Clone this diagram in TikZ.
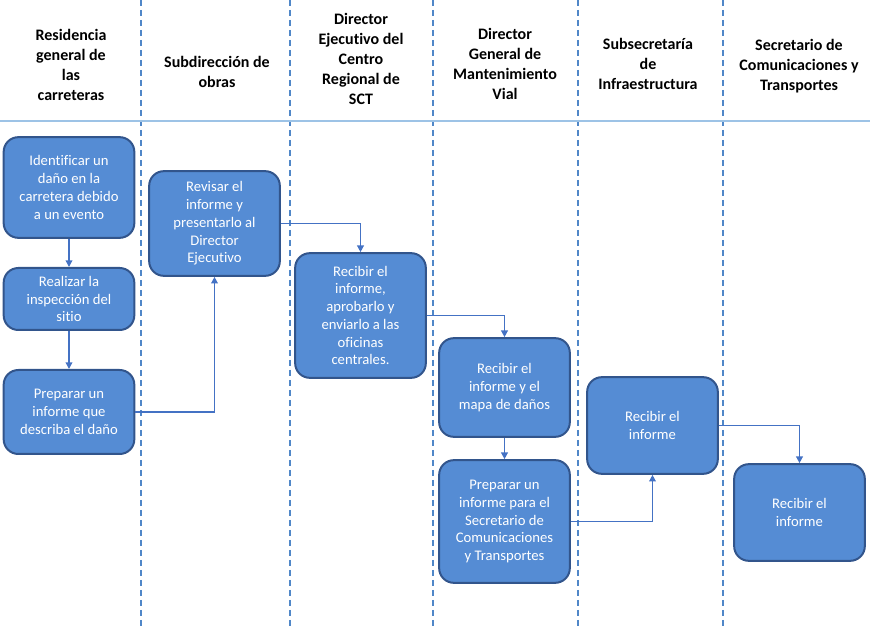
\documentclass[tikz,border=0pt]{standalone}
\usepackage{fontspec}
\setmainfont{Carlito}[Ligatures=NoCommon]
\usetikzlibrary{positioning, shapes, arrows, arrows.meta}
\tikzset{>={Triangle[length=5pt,width=5pt]}}
\definecolor{boxfill}{RGB}{85,140,212}
\definecolor{boxline}{RGB}{50,85,140}
\definecolor{flowline}{RGB}{68,114,196}
\definecolor{laneline}{RGB}{80,135,200}
\definecolor{headline}{RGB}{157,195,230}
\tikzset{
    paso/.style={draw=boxline, fill=boxfill, line width=1.5pt, rounded corners=11pt,
        minimum width=98pt, align=center, text=white,
        font=\fontsize{11}{13.3}\selectfont},
    carril/.style={draw=laneline, line width=1.1pt, dash pattern=on 4.5pt off 3pt},
    titulo/.style={align=center, font=\fontsize{12}{15}\selectfont\bfseries},
    flujo/.style={->, draw=flowline, line width=1.1pt}
}

\begin{document}
\begin{tikzpicture}[x=0.75pt, y=-0.75pt]
    \useasboundingbox (0,0) rectangle (876,634);

    % lanes
    \foreach \lx in {141,290,433,578,723}
        \draw[carril] (\lx,0) -- (\lx,630);
    \draw[headline, line width=1pt] (0,121) -- (870,121);

    % headers
    \node[titulo] (h1) at (71,65) {Residencia\\general de\\las\\carreteras};
    \node[titulo] (h2) at (217,72) {Subdirección de\\obras};
    \node[titulo] (h3) at (361,59) {Director\\Ejecutivo del\\Centro\\Regional de\\SCT};
    \node[titulo] (h4) at (505,64) {Director\\General de\\Mantenimiento\\Vial};
    \node[titulo] (h5) at (648,64) {Subsecretaría\\de\\Infraestructura};
    \node[titulo] (h6) at (799,66) {Secretario de\\Comunicaciones y\\Transportes};

    % steps
    \node[paso, minimum height=75.5pt] (identificar) at (69,187.5) {Identificar un\\daño en la\\carretera debido\\a un evento};
    \node[paso, minimum height=46.5pt] (inspeccion) at (69,299) {Realizar la\\inspección del\\sitio};
    \node[paso, minimum height=63pt] (preparar) at (69,412) {Preparar un\\informe que\\describa el daño};
    \node[paso, minimum height=78.5pt] (revisar) at (214.5,223.5) {Revisar el\\informe y\\presentarlo al\\Director\\Ejecutivo};
    \node[paso, minimum height=93.5pt] (aprobar) at (360.5,315.5) {Recibir el\\informe,\\aprobarlo y\\enviarlo a las\\oficinas\\centrales.};
    \node[paso, minimum height=74pt] (mapa) at (504.5,387.5) {Recibir el\\informe y el\\mapa de daños};
    \node[paso, minimum height=92pt] (informe) at (504.5,521.5) {Preparar un\\informe para el\\Secretario de\\Comunicaciones\\y Transportes};
    \node[paso, minimum height=72.5pt] (subsec) at (652.5,425.5) {Recibir el\\informe};
    \node[paso, minimum height=72.5pt] (secretario) at (799.5,512.5) {Recibir el\\informe};

    % connectors
    \draw[flujo] (identificar) -- (inspeccion);
    \draw[flujo] (inspeccion) -- (preparar);
    \draw[flujo] (preparar.east) -| (revisar.south);
    \draw[flujo] (revisar.east) -| (aprobar.north);
    \draw[flujo] (aprobar.east) -| (mapa.north);
    \draw[flujo] (mapa) -- (informe);
    \draw[flujo] (informe.east) -| (subsec.south);
    \draw[flujo] (subsec.east) -| (secretario.north);
\end{tikzpicture}
\end{document}
